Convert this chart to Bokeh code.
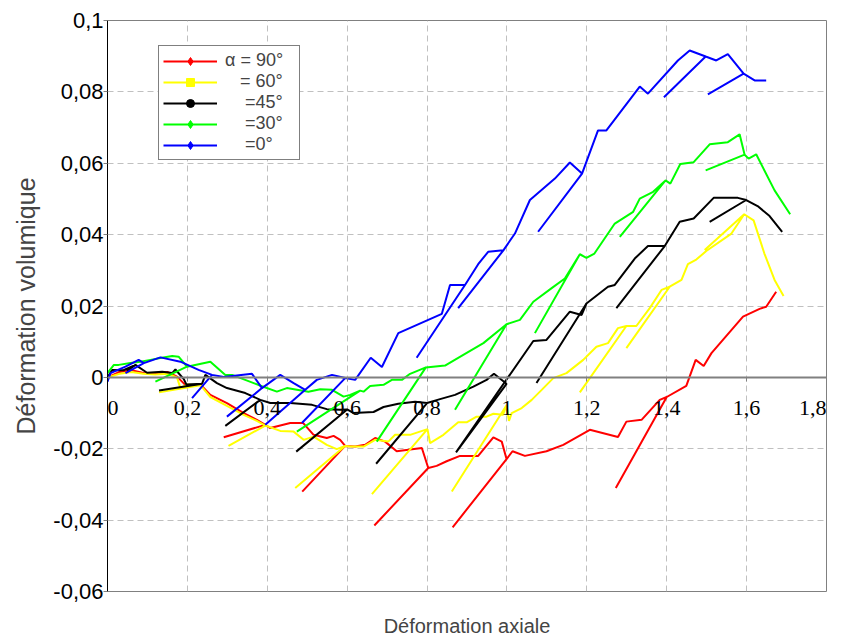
import numpy as np
from bokeh.plotting import figure
from bokeh.models import (Range1d, FixedTicker, CustomJSTickFormatter, Legend,
                          LegendItem, LabelSet, ColumnDataSource, LinearAxis)
from bokeh.embed import file_html
from bokeh.resources import INLINE

# ---------------- data ----------------
x_ticks = [0, 0.2, 0.4, 0.6, 0.8, 1.0, 1.2, 1.4, 1.6, 1.8]
x_tick_labels = ["0", "0,2", "0,4", "0,6", "0,8", "1", "1,2", "1,4", "1,6", "1,8"]
y_ticks = [-0.06, -0.04, -0.02, 0, 0.02, 0.04, 0.06, 0.08, 0.1]

labels = ["\u03b1 = 90\u00b0", "\u00a0\u00a0\u00a0= 60\u00b0", "\u00a0\u00a0\u00a0\u00a0=45\u00b0",
          "\u00a0\u00a0\u00a0\u00a0=30\u00b0", "\u00a0\u00a0\u00a0\u00a0=0\u00b0"]

red_x = [0, 0.03, 0.06, 0.09, 0.12, 0.15, 0.174, 0.199, 0.2325, 0.2575, 0.299, 0.341, 0.374, 0.395,
         0.291, 0.395,
         0.4075, 0.4575, 0.49, 0.516, 0.549, 0.566, 0.5825, 0.595,
         0.4875, 0.595,
         0.62, 0.645, 0.67, 0.695, 0.724, 0.753, 0.787, 0.803,
         0.668, 0.803,
         0.824, 0.849, 0.8825, 0.928, 0.966, 0.987, 0.999,
         0.864, 0.999,
         1.014, 1.045, 1.099, 1.141, 1.2075, 1.278, 1.299, 1.337, 1.3825, 1.4,
         1.2725, 1.4,
         1.449, 1.4725, 1.4925, 1.512, 1.591, 1.6325, 1.649, 1.674]
red_y = [0, 0.0015, 0.002, 0.0012, 0.001, 0.0015, 0.0002, -0.0026, -0.002, -0.0049, -0.0072, -0.010, -0.0119, -0.0133,
         -0.0168, -0.0133,
         -0.0142, -0.0128, -0.0128, -0.0161, -0.017, -0.0164, -0.0175, -0.0192,
         -0.032, -0.0192,
         -0.0194, -0.0189, -0.017, -0.018, -0.0207, -0.0203, -0.0198, -0.0254,
         -0.0415, -0.0254,
         -0.0248, -0.0235, -0.022, -0.022, -0.0168, -0.018, -0.0229,
         -0.042, -0.0229,
         -0.0207, -0.022, -0.0207, -0.0189, -0.0147, -0.0167, -0.0124, -0.0119, -0.0063, -0.0055,
         -0.031, -0.0055,
         -0.0024, 0.0049, 0.0032, 0.0068, 0.017, 0.0192, 0.0198, 0.024]

yellow_x = [0, 0.03, 0.06, 0.09, 0.12, 0.15, 0.174, 0.1825, 0.2, 0.2325,
            0.129, 0.2325,
            0.2575, 0.299, 0.341, 0.374, 0.395,
            0.303, 0.395,
            0.4325, 0.466, 0.491, 0.516, 0.549, 0.574, 0.595,
            0.47, 0.595,
            0.6075, 0.641, 0.67, 0.703, 0.72, 0.7575, 0.801,
            0.662, 0.801,
            0.8075, 0.841, 0.878, 0.899, 0.924, 0.949, 0.966, 0.99, 0.999,
            0.862, 0.999,
            1.005, 1.012, 1.037, 1.062, 1.087, 1.116, 1.149, 1.191, 1.224, 1.253, 1.278, 1.299,
            1.1825, 1.299,
            1.324, 1.3575, 1.387, 1.4075,
            1.299, 1.4075,
            1.437, 1.453, 1.474, 1.499, 1.562, 1.594,
            1.495, 1.594,
            1.6175, 1.6445, 1.67, 1.6925]
yellow_y = [0, 0.001, 0.0015, 0.001, 0.0008, 0.001, 0, -0.003, -0.002, -0.0022,
            -0.0042, -0.0022,
            -0.0055, -0.008, -0.0105, -0.0122, -0.0135,
            -0.0192, -0.0135,
            -0.015, -0.0152, -0.0175, -0.0166, -0.0189, -0.0201, -0.0192,
            -0.031, -0.0192,
            -0.0194, -0.0194, -0.0175, -0.018, -0.0161, -0.0161, -0.0145,
            -0.0327, -0.0145,
            -0.0184, -0.0161, -0.0126, -0.0126, -0.011, -0.011, -0.0102, -0.0105, -0.0078,
            -0.032, -0.0078,
            -0.0122, -0.01, -0.0086, -0.0063, -0.0035, -0.0002, 0.0012, 0.0049, 0.0086, 0.0096, 0.0138, 0.0144,
            -0.0042, 0.0144,
            0.0144, 0.0194, 0.0245, 0.0254,
            0.0082, 0.0254,
            0.0273, 0.0317, 0.033, 0.0354, 0.0403, 0.0457,
            0.0357, 0.0457,
            0.044, 0.0347, 0.0273, 0.0228]

black_x = [0, 0.012, 0.04, 0.07,
           0.049, 0.07,
           0.099, 0.137, 0.162, 0.17, 0.191, 0.1975, 0.2367,
           0.129, 0.2367,
           0.245, 0.274, 0.299, 0.345, 0.3825,
           0.295, 0.3825,
           0.4075, 0.4575, 0.512, 0.549, 0.5825, 0.6,
           0.4725, 0.6,
           0.616, 0.666, 0.691, 0.728, 0.77, 0.8,
           0.6725, 0.8,
           0.8325, 0.87, 0.916, 0.949, 0.9675, 0.999,
           0.8725, 1.066,
           1.099, 1.1575, 1.187, 1.199,
           1.074, 1.199,
           1.253, 1.27, 1.32, 1.353, 1.395,
           1.274, 1.395,
           1.4325, 1.4675, 1.5175, 1.578, 1.599,
           1.5075, 1.599,
           1.6275, 1.6575, 1.689]
black_y = [0, 0.0021, 0.002, 0.0035,
           0.0018, 0.0035,
           0.0013, 0.0016, 0.0012, 0.0022, -0.0005, -0.002, -0.0018,
           -0.0037, -0.0018,
           0.0007, -0.0016, -0.003, -0.0044, -0.0063,
           -0.0136, -0.0063,
           -0.0072, -0.0072, -0.0077, -0.0089, -0.0091, -0.009,
           -0.0208, -0.009,
           -0.01, -0.0097, -0.0083, -0.0074, -0.0068, -0.0072,
           -0.0242, -0.0072,
           -0.0061, -0.0049, -0.0026, -0.0007, 0.001, -0.0018,
           -0.021, 0.0102,
           0.0105, 0.0184, 0.0175, 0.0207,
           -0.0016, 0.0207,
           0.0254, 0.0259, 0.0333, 0.0368, 0.0368,
           0.0194, 0.0368,
           0.0436, 0.0445, 0.0503, 0.0503, 0.0497,
           0.0436, 0.0497,
           0.048, 0.0452, 0.0408]

green_x = [0, 0.016, 0.028, 0.0575, 0.0825, 0.1075, 0.1325, 0.162, 0.178, 0.199,
           0.12, 0.199,
           0.2575, 0.295, 0.312, 0.3868, 0.424, 0.449, 0.503, 0.5325, 0.562, 0.591, 0.6075, 0.6325,
           0.474, 0.6325,
           0.641, 0.6575, 0.691, 0.712, 0.737, 0.7575, 0.797,
           0.674, 0.797,
           0.845, 0.895, 0.941, 0.999,
           0.87, 0.999,
           1.0325, 1.066, 1.112, 1.145, 1.1825,
           1.07, 1.1825,
           1.199, 1.219, 1.27, 1.316, 1.3325, 1.366, 1.397,
           1.2825, 1.397,
           1.409, 1.434, 1.4675, 1.5075, 1.553, 1.5825, 1.595,
           1.4975, 1.595,
           1.605, 1.624, 1.67, 1.709]
green_y = [0.0012, 0.0035, 0.0035, 0.004, 0.0044, 0.0049, 0.0054, 0.006, 0.0058, 0.003,
           -0.0012, 0.003,
           0.0044, 0.0007, 0.0007, -0.0025, -0.004, -0.003, -0.004, -0.0033, -0.0035, -0.0054, -0.0049, -0.0037,
           -0.0152, -0.0037,
           -0.004, -0.0024, -0.0021, -0.0007, -0.0007, 0.001, 0.0028,
           -0.018, 0.0028,
           0.0033, 0.0066, 0.0096, 0.0149,
           -0.0091, 0.0149,
           0.0161, 0.0212, 0.025, 0.0277, 0.0345,
           0.0124, 0.0345,
           0.0335, 0.0347, 0.0431, 0.0464, 0.0501, 0.052, 0.0552,
           0.0394, 0.0552,
           0.0543, 0.0598, 0.0603, 0.0653, 0.0659, 0.0681, 0.0624,
           0.058, 0.0624,
           0.0613, 0.0625, 0.0524, 0.0457]

blue_x = [0, 0.0075, 0.045, 0.078, 0.091,
          0.045, 0.091,
          0.1325, 0.1825, 0.228, 0.2617,
          0.2117, 0.2617,
          0.291, 0.3617, 0.3868,
          0.299, 0.3868,
          0.4325, 0.466, 0.495,
          0.395, 0.495,
          0.524, 0.562, 0.595,
          0.4867, 0.595,
          0.62, 0.659, 0.687, 0.728, 0.837, 0.8575, 0.895,
          0.774, 0.895,
          0.928, 0.953, 0.991,
          0.878, 0.991,
          1.02, 1.0575, 1.12, 1.1575, 1.188,
          1.078, 1.188,
          1.228, 1.249, 1.3325, 1.353, 1.428, 1.4575, 1.4975,
          1.393, 1.4975,
          1.524, 1.553, 1.5925,
          1.503, 1.5925,
          1.62, 1.649]
blue_y = [-0.0012, 0.0012, 0.003, 0.0049, 0.004,
          0.0012, 0.004,
          0.0056, 0.0044, 0.0021, 0.0007,
          -0.0058, 0.0007,
          0.0001, 0.001, -0.003,
          -0.011, -0.003,
          0.0007, -0.0016, -0.0035,
          -0.0133, -0.0035,
          -0.0007, 0.0007, -0.0002,
          -0.0128, -0.0002,
          -0.0007, 0.0055, 0.0029, 0.0124, 0.0178, 0.0259, 0.0259,
          0.0055, 0.0259,
          0.0317, 0.0352, 0.0356,
          0.0194, 0.0356,
          0.0403, 0.0497, 0.0557, 0.0602, 0.0571,
          0.0408, 0.0571,
          0.0692, 0.0692, 0.0815, 0.0795, 0.0888, 0.0916, 0.0899,
          0.0785, 0.0899,
          0.0888, 0.0906, 0.0851,
          0.0793, 0.0851,
          0.0832, 0.0832]

series = [
    (red_x, red_y, "#ff0000", "diamond", 13),
    (yellow_x, yellow_y, "#ffff00", "square", 9),
    (black_x, black_y, "#000000", "circle", 10),
    (green_x, green_y, "#00ff00", "diamond", 13),
    (blue_x, blue_y, "#0000ff", "diamond", 13),
]

FONT = "Liberation Sans"

p = figure(width=844, height=639, output_backend="svg", toolbar_location=None,
           x_range=Range1d(0, 1.8), y_range=Range1d(-0.06, 0.1),
           min_border_left=107, min_border_right=18, min_border_top=20, min_border_bottom=47)
p.background_fill_color = "white"
p.border_fill_color = "white"
p.outline_line_color = "#808080"
p.outline_line_width = 1

# axes
p.xaxis.ticker = FixedTicker(ticks=x_ticks)
p.yaxis.ticker = FixedTicker(ticks=y_ticks)
p.xaxis.formatter = CustomJSTickFormatter(code="return '';")
p.yaxis.formatter = CustomJSTickFormatter(code="""
var s = tick.toFixed(2).replace(/0+$/, '').replace(/\\.$/, '');
if (s == '-0') { s = '0'; }
return s.replace('.', ',');
""")
p.xaxis.fixed_location = 0
p.xaxis.axis_line_color = "#808080"
p.xaxis.axis_line_width = 2
p.xaxis.major_tick_line_color = "#808080"
p.xaxis.major_tick_in = 0
p.xaxis.major_tick_out = 4
p.xaxis.minor_tick_line_color = None

p.yaxis.axis_line_color = "black"
p.yaxis.axis_line_width = 1
p.yaxis.major_tick_line_color = "#808080"
p.yaxis.major_tick_in = 0
p.yaxis.major_tick_out = 4
p.yaxis.minor_tick_line_color = None
p.yaxis.major_label_standoff = 0
p.yaxis.major_label_text_font = FONT
p.yaxis.major_label_text_font_size = "22px"
p.yaxis.major_label_text_color = "black"
p.yaxis.axis_label = "D\u00e9formation volumique"
p.yaxis.axis_label_text_font = FONT
p.yaxis.axis_label_text_font_size = "25px"
p.yaxis.axis_label_text_font_style = "normal"
p.yaxis.axis_label_standoff = 10

# bottom axis that only carries the x title (no line, no ticks)
title_axis = LinearAxis(ticker=FixedTicker(ticks=[]), axis_label="D\u00e9formation axiale",
                        axis_line_color=None, major_tick_line_color=None,
                        minor_tick_line_color=None, major_tick_in=0, major_tick_out=0,
                        minor_tick_in=0, minor_tick_out=0, major_label_standoff=0,
                        major_label_text_font_size="0px",
                        axis_label_text_font=FONT, axis_label_text_font_size="20px",
                        axis_label_text_font_style="normal", axis_label_standoff=23)
p.add_layout(title_axis, "below")

# x tick labels, hung under the axis that crosses at y = 0
aligns = ["left" if i == 0 else ("right" if i == len(x_ticks) - 1 else "center")
          for i in range(len(x_ticks))]
tick_src = ColumnDataSource(dict(x=x_ticks, y=[0] * len(x_ticks), text=x_tick_labels, align=aligns))
p.add_layout(LabelSet(x="x", y="y", text="text", source=tick_src, y_offset=-31,
                      text_align="align", text_baseline="middle", text_font=FONT,
                      text_font_size="22px", text_color="black"))

# grid
for g in (p.xgrid, p.ygrid):
    g.grid_line_color = "#c0c0c0"
    g.grid_line_dash = "6 4"
    g.grid_line_width = 1

items = []
for (xs, ys, color, marker, size), lab in zip(series, labels):
    lr = p.line(xs, ys, line_color=color, line_width=2)
    mr = p.scatter([np.nan], [np.nan], marker=marker, size=size,
                   fill_color=color, line_color=color)
    items.append(LegendItem(label=lab, renderers=[lr, mr]))

legend = Legend(items=items, location=(51, 431), glyph_width=54, glyph_height=20,
                label_height=20, spacing=0, padding=4, label_standoff=8, label_width=70,
                border_line_color="black", border_line_width=1, background_fill_color="white",
                background_fill_alpha=1, label_text_font=FONT, label_text_font_size="18px",
                margin=0)
p.add_layout(legend)

open("out.html", "w").write(file_html(p, INLINE))
